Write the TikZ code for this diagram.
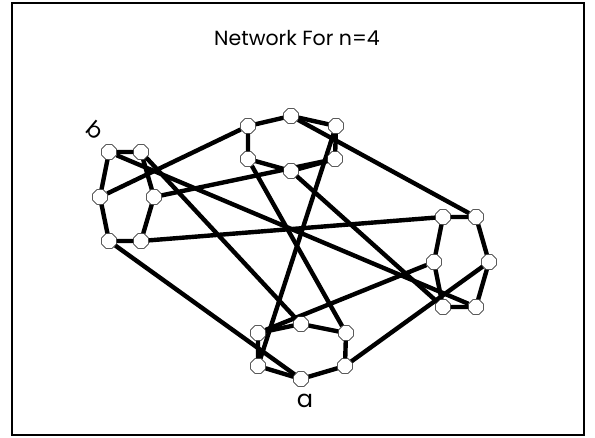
\documentclass[tikz,border=0pt]{standalone}
\usepackage{fontspec}
\setmainfont{Poppins}
\usepackage{tikz}
\usetikzlibrary{shapes.geometric,backgrounds}

\begin{document}
\begin{tikzpicture}[x=1pt,y=-1pt,
        vtx/.style={regular polygon,regular polygon sides=8,draw,fill=white,inner sep=0pt,minimum size=16pt,line width=0.6pt},
        link/.style={line width=4.4pt}]
        \useasboundingbox (0,0) rectangle (595,438);
        \draw[line width=1.5pt] (12,3) rectangle (584,435);
        \node (title) at (297,38) {\fontsize{20.5}{24}\selectfont Network For n=4};
        % left hexagon
        \node[vtx] (l1) at (109,152) {};
        \node[vtx] (l2) at (141,152) {};
        \node[vtx] (l3) at (100,197) {};
        \node[vtx] (l4) at (154,197) {};
        \node[vtx] (l5) at (109,241) {};
        \node[vtx] (l6) at (141,241) {};
        % top hexagon
        \node[vtx] (t1) at (248,126) {};
        \node[vtx] (t2) at (291,116) {};
        \node[vtx] (t3) at (336,126) {};
        \node[vtx] (t4) at (248,159) {};
        \node[vtx] (t5) at (291,171) {};
        \node[vtx] (t6) at (335,159) {};
        % right hexagon
        \node[vtx] (r1) at (443,217) {};
        \node[vtx] (r2) at (476,217) {};
        \node[vtx] (r3) at (434,262) {};
        \node[vtx] (r4) at (489,262) {};
        \node[vtx] (r5) at (443,307) {};
        \node[vtx] (r6) at (476,307) {};
        % bottom hexagon
        \node[vtx] (b1) at (258,333) {};
        \node[vtx] (b2) at (301,324) {};
        \node[vtx] (b3) at (346,333) {};
        \node[vtx] (b4) at (258,366) {};
        \node[vtx] (b5) at (301,379) {};
        \node[vtx] (b6) at (345,366) {};
        \node[rotate=-40,font=\fontsize{22}{24}\selectfont] (lb) at (95,130) {b};
        \node[font=\fontsize{24}{26}\selectfont] (la) at (305,401) {a};
        \begin{scope}[on background layer]
        \draw[link] (l1) -- (l2) -- (l4) -- (l6) -- (l5) -- (l3) -- (l1);
        \draw[link] (t1) -- (t2) -- (t3) -- (t6) -- (t5) -- (t4) -- (t1);
        \draw[link] (r1) -- (r2) -- (r4) -- (r6) -- (r5) -- (r3) -- (r1);
        \draw[link] (b1) -- (b2) -- (b3) -- (b6) -- (b5) -- (b4) -- (b1);
        \draw[link] (l1) -- (r6);
        \draw[link] (l2) -- (b2);
        \draw[link] (l3) -- (t1);
        \draw[link] (l4) -- (t6);
        \draw[link] (l5) -- (b5);
        \draw[link] (l6) -- (r1);
        \draw[link] (t2) -- (r2);
        \draw[link] (t3) -- (b4);
        \draw[link] (t4) -- (b3);
        \draw[link] (t5) -- (r5);
        \draw[link] (r3) -- (b1);
        \draw[link] (r4) -- (b6);
        \end{scope}
    \end{tikzpicture}
\end{document}
